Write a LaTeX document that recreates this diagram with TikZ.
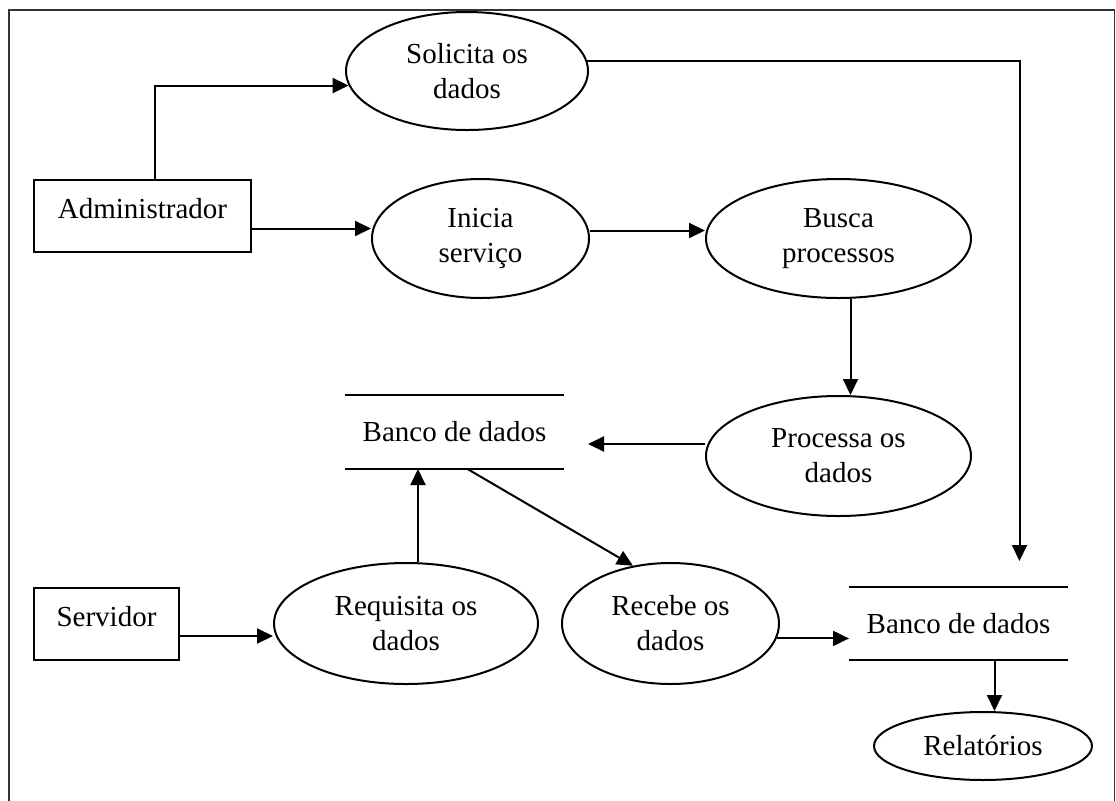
\documentclass[tikz,border=0pt]{standalone}
\usepackage{fontspec}
\setmainfont{Liberation Serif}
\usetikzlibrary{shapes.geometric, arrows.meta}
\tikzset{
	processo/.style={ellipse, draw, inner sep=0pt, align=center},
	entidade/.style={rectangle, draw, inner sep=0pt, minimum height=36pt, text depth=8pt},
	deposito/.style={rectangle, inner sep=0pt, minimum width=108.5pt, minimum height=36pt},
	seta/.style={-{Triangle[length=8pt,width=7.5pt]}},
}
\begin{document}
\begin{tikzpicture}[x=0.5pt, y=-0.5pt, line width=1pt, font=\fontsize{14.5pt}{17.5pt}\selectfont]
		\useasboundingbox (0,0) rectangle (1116,800);
		% the frame
		\draw[line width=0.6pt, black!80] (9,10) rectangle (1114.5,830);

		% external entities
		\node[entidade, minimum width=108.5pt] (adm) at (142.5,216) {Administrador};
		\node[entidade, minimum width=72.5pt] (serv) at (106.5,624) {Servidor};

		% processes
		\node[processo, minimum width=121pt, minimum height=59pt] (sol) at (467,71) {Solicita os\\dados};
		\node[processo, minimum width=108.5pt, minimum height=59.5pt] (ini) at (480.5,238.5) {Inicia\\servi\c{c}o};
		\node[processo, minimum width=132.5pt, minimum height=59.5pt] (bus) at (838.5,238.5) {Busca\\processos};
		\node[processo, minimum width=132.5pt, minimum height=60pt] (pro) at (838.5,456) {Processa os\\dados};
		\node[processo, minimum width=132pt, minimum height=60.5pt] (req) at (406,623.5) {Requisita os\\dados};
		\node[processo, minimum width=108.5pt, minimum height=60.5pt] (rec) at (670.5,623.5) {Recebe os\\dados};
		\node[processo, minimum width=109pt, minimum height=34pt] (rel) at (983,746) {Relat\'orios};

		% data stores
		\node[deposito] (banco1) at (454.5,432) {Banco de dados};
		\node[deposito, minimum height=35.5pt] (banco2) at (958.5,623.5) {Banco de dados};
		\draw (banco1.north west) -- (banco1.north east);
		\draw (banco1.south west) -- (banco1.south east);
		\draw (banco2.north west) -- (banco2.north east);
		\draw (banco2.south west) -- (banco2.south east);

		% the arrows
		\draw[seta] ([xshift=6pt]adm.north) |- (sol.187);
		\draw[seta, shorten >=13pt] (sol.5) -| ([xshift=30.5pt]banco2.north);
		\draw[seta] ([yshift=5pt]ini.west -| adm.east) -- ([yshift=5pt]ini.west);
		\draw[seta] ([yshift=4pt]ini.east) -- ([yshift=4pt]ini.east -| bus.west);
		\draw[seta] ([xshift=6pt]bus.south) -- ([xshift=6pt]pro.north);
		\draw[seta, shorten >=12pt] ([yshift=6pt]pro.west) -- ([yshift=6pt]pro.west -| banco1.east);
		\draw[seta] ([xshift=6pt]req.north) -- ([xshift=6pt]req.north |- banco1.south);
		\draw[seta] ([xshift=6.5pt]banco1.south) -- (rec.123);
		\draw[seta] ([yshift=-6pt]serv.east) -- ([yshift=-6pt]serv.east -| req.west);
		\draw[seta] (rec.-8) -- (rec.-8 -| banco2.west);
		\draw[seta] ([xshift=18pt]banco2.south) -- ([xshift=18pt]banco2.south |- rel.north);
	\end{tikzpicture}
\end{document}
